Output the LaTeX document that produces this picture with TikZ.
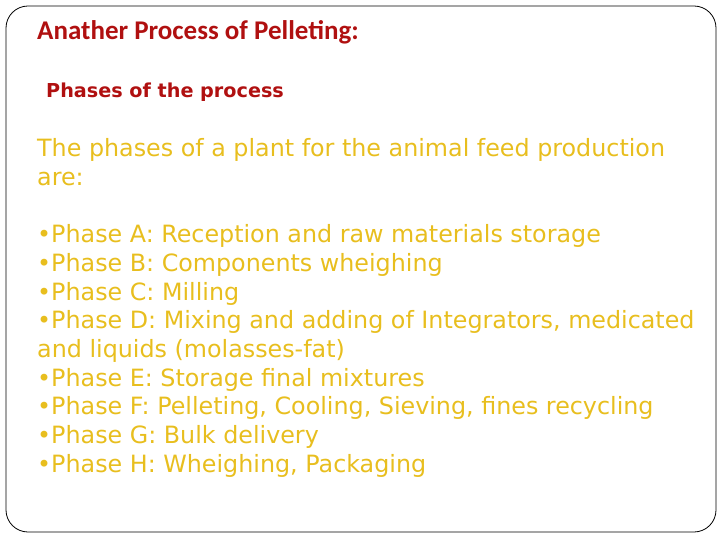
\documentclass[tikz,border=0pt]{standalone}
\usepackage{fontspec}
\setmainfont{DejaVu Sans}
\newfontfamily\titlefont{Carlito}
\definecolor{deepred}{HTML}{B01010}
\definecolor{gold}{HTML}{E8BE1E}
\begin{document}
\begin{tikzpicture}[x=1pt,y=-1pt,
  body/.style={anchor=base west,inner sep=0pt,text=gold,font=\fontsize{23.8}{26}\selectfont},
  head/.style={anchor=base west,inner sep=0pt,text=deepred}]
\useasboundingbox (0,0) rectangle (720,540);
\draw[line width=0.8pt,rounded corners=22pt] (6,6) rectangle (716,532);
\node[head,font=\titlefont\bfseries\fontsize{27}{30}\selectfont] (t1) at (37,40) {Anather Process of Pelleting:};
\node[head,font=\bfseries\fontsize{19.2}{22}\selectfont] (t2) at (46,98) {Phases of the process};
\node[body] (l1) at (37,157) {The phases of a plant for the animal feed production};
\node[body] (l2) at (37,186) {are:};
\node[body] (a) at (37,242) {•Phase A: Reception and raw materials storage};
\node[body] (b) at (37,271) {•Phase B: Components wheighing};
\node[body] (c) at (37,300) {•Phase C: Milling};
\node[body] (d) at (37,328) {•Phase D: Mixing and adding of Integrators, medicated};
\node[body] (d2) at (37,357) {and liquids (molasses-fat)};
\node[body] (e) at (37,386) {•Phase E: Storage final mixtures};
\node[body] (f) at (37,414) {•Phase F: Pelleting, Cooling, Sieving, fines recycling};
\node[body] (g) at (37,443) {•Phase G: Bulk delivery};
\node[body] (h) at (37,472) {•Phase H: Wheighing, Packaging};
\end{tikzpicture}
\end{document}
